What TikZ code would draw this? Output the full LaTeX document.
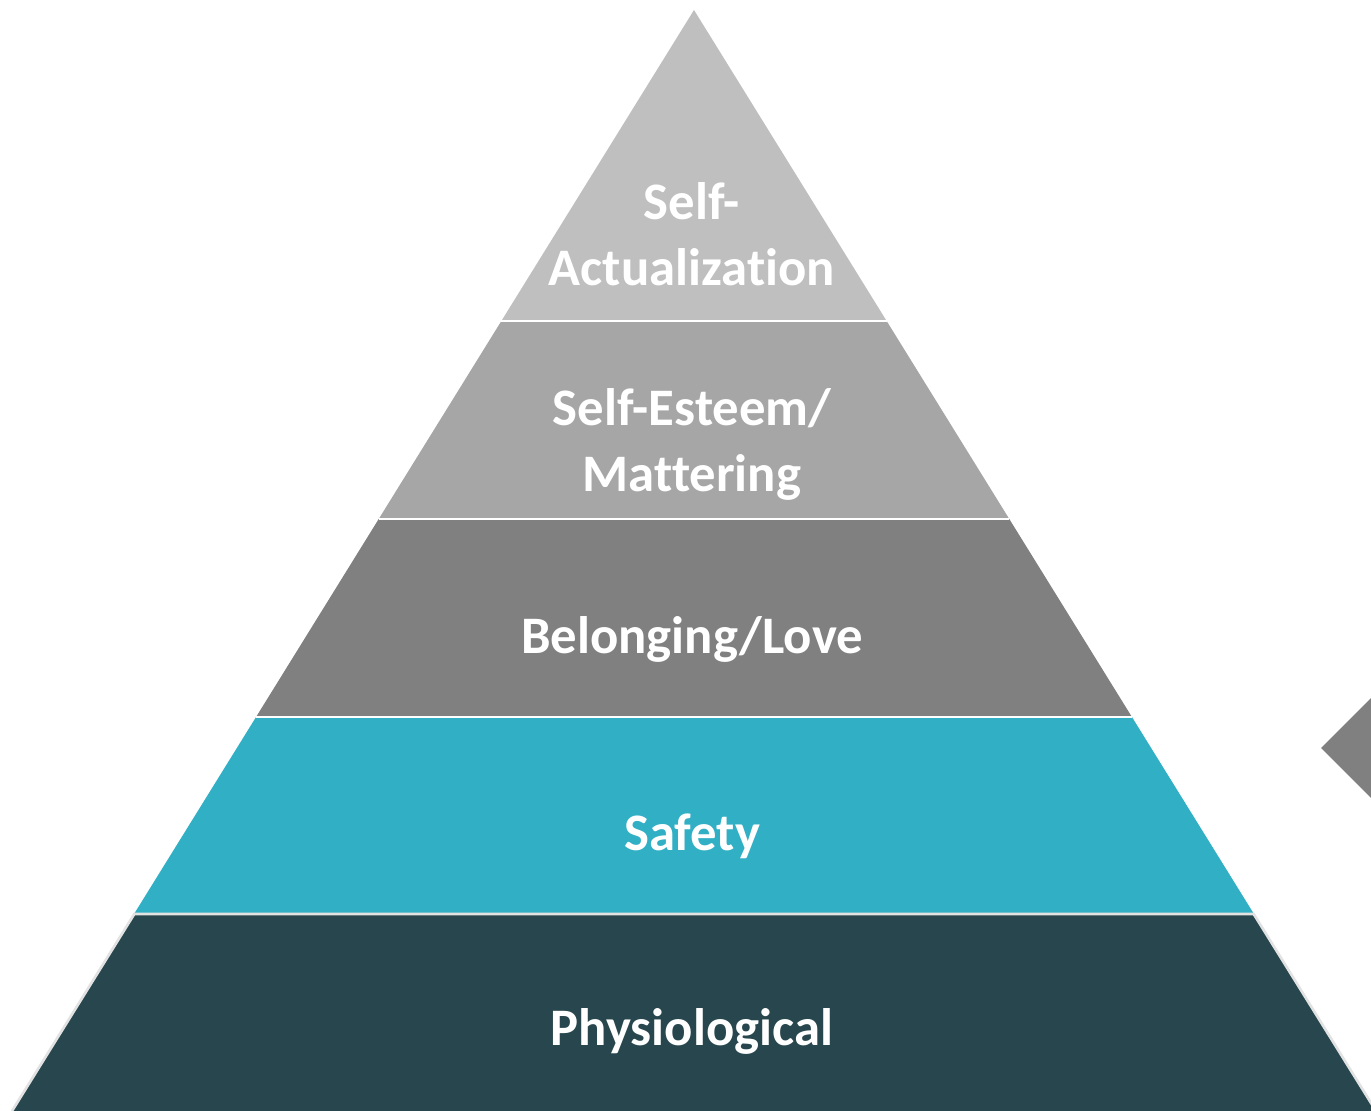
\documentclass[tikz,border=0pt]{standalone}
\usepackage{fontspec}
\setmainfont{Carlito}[Ligatures=NoCommon]
\usetikzlibrary{calc}
\definecolor{peakgrey}{RGB}{191,191,191}
\definecolor{esteemgrey}{RGB}{166,166,166}
\definecolor{lovegrey}{RGB}{128,128,128}
\definecolor{safetyteal}{RGB}{49,175,197}
\definecolor{basepetrol}{RGB}{39,70,77}
\definecolor{seamgrey}{RGB}{226,226,226}

\begin{document}
\begin{tikzpicture}[x=0.2mm, y=-0.2mm,
    seam/.style={line width=1.5pt},
    tiertext/.style={font=\bfseries\fontsize{30}{37.5}\selectfont, text=white,
                     align=center, inner sep=0pt}
  ]
  \useasboundingbox (0,0) rectangle (1371,1111);
  \clip (0,0) rectangle (1371,1111);

  % --- tiers of the pyramid (apex 694/10, flank slope 682/1101) ---
  \foreach \ya/\yb/\col in {10/321/peakgrey, 321/519/esteemgrey, 519/717/lovegrey,
                            717/914/safetyteal, 914/1111/basepetrol} {
      \pgfmathsetmacro{\la}{694-0.61944*(\ya-10)}
      \pgfmathsetmacro{\ra}{694+0.61944*(\ya-10)}
      \pgfmathsetmacro{\lb}{694-0.61944*(\yb-10)}
      \pgfmathsetmacro{\rb}{694+0.61944*(\yb-10)}
      \fill[\col] (\la,\ya) -- (\ra,\ya) -- (\rb,\yb) -- (\lb,\yb) -- cycle;
  }
  % seams between tiers
  \foreach \y in {321,519,717} {
      \pgfmathsetmacro{\l}{694-0.61944*(\y-10)}
      \pgfmathsetmacro{\r}{694+0.61944*(\y-10)}
      \draw[seam, white] (\l,\y) -- (\r,\y);
  }
  \draw[seam, seamgrey] (12,1111) -- (134.3,914) -- (1253.7,914) -- (1376,1111);

  % grey pointer at the right edge
  \fill[lovegrey] (1321,748) -- (1421,648) -- (1421,848) -- cycle;

  % --- labels (base = last line) ---
  \node[tiertext, anchor=base] (actual) at (692,285) {Self-\\Actualization};
  \node[tiertext, anchor=base] (esteem) at (692,491) {Self-Esteem/\\Mattering};
  \node[tiertext, anchor=base] (love) at (692,653) {Belonging/Love};
  \node[tiertext, anchor=base] (safety) at (692,850) {Safety};
  \node[tiertext, anchor=base] (physio) at (692,1045) {Physiological};
\end{tikzpicture}
\end{document}
